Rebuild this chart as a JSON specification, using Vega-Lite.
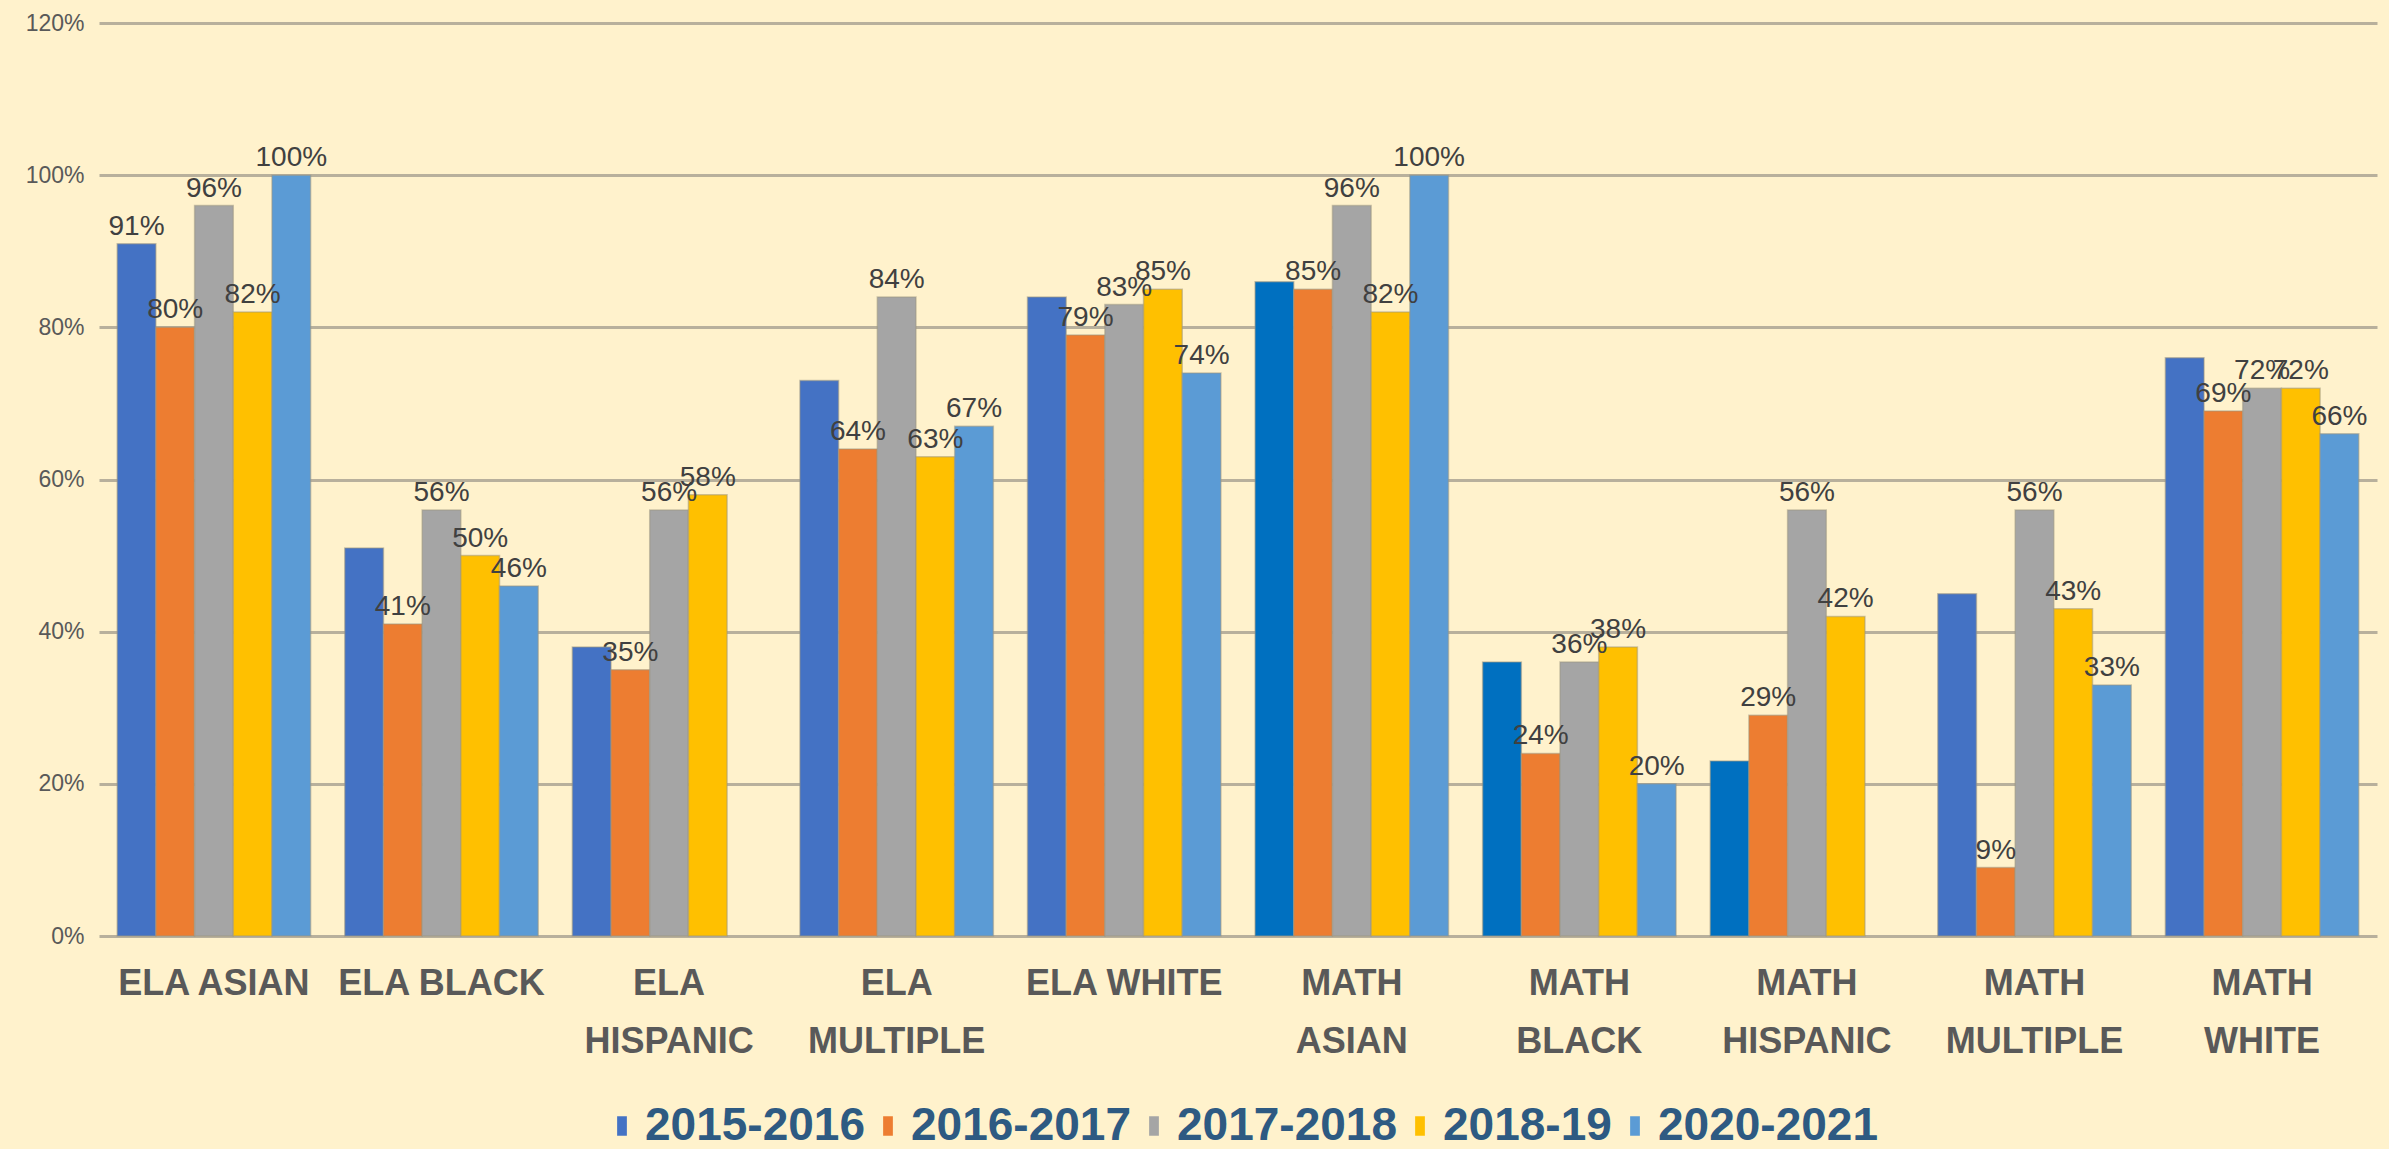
{
  "$schema": "https://vega.github.io/schema/vega-lite/v6.json",
  "width": 2389,
  "height": 1149,
  "autosize": {"type": "fit", "contains": "padding"},
  "padding": {"left": 25, "right": 12, "top": 12, "bottom": 0},
  "background": "#FFF2CC",
  "config": {
    "view": {"stroke": null},
    "font": "Liberation Sans",
    "legend": {"layout": {"bottom": {"anchor": "middle"}}}
  },
  "data": {
    "values": [
      {"cat": "ELA ASIAN", "year": "2015-2016", "pct": 0.91},
      {"cat": "ELA ASIAN", "year": "2016-2017", "pct": 0.80},
      {"cat": "ELA ASIAN", "year": "2017-2018", "pct": 0.96},
      {"cat": "ELA ASIAN", "year": "2018-19", "pct": 0.82},
      {"cat": "ELA ASIAN", "year": "2020-2021", "pct": 1.00},
      {"cat": "ELA BLACK", "year": "2015-2016", "pct": 0.51},
      {"cat": "ELA BLACK", "year": "2016-2017", "pct": 0.41},
      {"cat": "ELA BLACK", "year": "2017-2018", "pct": 0.56},
      {"cat": "ELA BLACK", "year": "2018-19", "pct": 0.50},
      {"cat": "ELA BLACK", "year": "2020-2021", "pct": 0.46},
      {"cat": "ELA HISPANIC", "year": "2015-2016", "pct": 0.38},
      {"cat": "ELA HISPANIC", "year": "2016-2017", "pct": 0.35},
      {"cat": "ELA HISPANIC", "year": "2017-2018", "pct": 0.56},
      {"cat": "ELA HISPANIC", "year": "2018-19", "pct": 0.58},
      {"cat": "ELA MULTIPLE", "year": "2015-2016", "pct": 0.73},
      {"cat": "ELA MULTIPLE", "year": "2016-2017", "pct": 0.64},
      {"cat": "ELA MULTIPLE", "year": "2017-2018", "pct": 0.84},
      {"cat": "ELA MULTIPLE", "year": "2018-19", "pct": 0.63},
      {"cat": "ELA MULTIPLE", "year": "2020-2021", "pct": 0.67},
      {"cat": "ELA WHITE", "year": "2015-2016", "pct": 0.84},
      {"cat": "ELA WHITE", "year": "2016-2017", "pct": 0.79},
      {"cat": "ELA WHITE", "year": "2017-2018", "pct": 0.83},
      {"cat": "ELA WHITE", "year": "2018-19", "pct": 0.85},
      {"cat": "ELA WHITE", "year": "2020-2021", "pct": 0.74},
      {"cat": "MATH ASIAN", "year": "2015-2016", "pct": 0.86},
      {"cat": "MATH ASIAN", "year": "2016-2017", "pct": 0.85},
      {"cat": "MATH ASIAN", "year": "2017-2018", "pct": 0.96},
      {"cat": "MATH ASIAN", "year": "2018-19", "pct": 0.82},
      {"cat": "MATH ASIAN", "year": "2020-2021", "pct": 1.00},
      {"cat": "MATH BLACK", "year": "2015-2016", "pct": 0.36},
      {"cat": "MATH BLACK", "year": "2016-2017", "pct": 0.24},
      {"cat": "MATH BLACK", "year": "2017-2018", "pct": 0.36},
      {"cat": "MATH BLACK", "year": "2018-19", "pct": 0.38},
      {"cat": "MATH BLACK", "year": "2020-2021", "pct": 0.20},
      {"cat": "MATH HISPANIC", "year": "2015-2016", "pct": 0.23},
      {"cat": "MATH HISPANIC", "year": "2016-2017", "pct": 0.29},
      {"cat": "MATH HISPANIC", "year": "2017-2018", "pct": 0.56},
      {"cat": "MATH HISPANIC", "year": "2018-19", "pct": 0.42},
      {"cat": "MATH MULTIPLE", "year": "2015-2016", "pct": 0.45},
      {"cat": "MATH MULTIPLE", "year": "2016-2017", "pct": 0.09},
      {"cat": "MATH MULTIPLE", "year": "2017-2018", "pct": 0.56},
      {"cat": "MATH MULTIPLE", "year": "2018-19", "pct": 0.43},
      {"cat": "MATH MULTIPLE", "year": "2020-2021", "pct": 0.33},
      {"cat": "MATH WHITE", "year": "2015-2016", "pct": 0.76},
      {"cat": "MATH WHITE", "year": "2016-2017", "pct": 0.69},
      {"cat": "MATH WHITE", "year": "2017-2018", "pct": 0.72},
      {"cat": "MATH WHITE", "year": "2018-19", "pct": 0.72},
      {"cat": "MATH WHITE", "year": "2020-2021", "pct": 0.66}
    ]
  },
  "encoding": {
    "x": {
      "field": "cat",
      "type": "nominal",
      "sort": null,
      "scale": {"paddingInner": 0.15, "paddingOuter": 0.08},
      "axis": {
        "title": null,
        "labelAngle": 0,
        "domain": false,
        "ticks": false,
        "labelFont": "Liberation Sans",
        "labelFontSize": 36,
        "labelFontWeight": "bold",
        "labelColor": "#595959",
        "labelLineHeight": 58,
        "labelPadding": 30,
        "labelLimit": 400,
        "labelExpr": "(datum.label === 'ELA ASIAN' || datum.label === 'ELA BLACK' || datum.label === 'ELA WHITE') ? datum.label : split(datum.label, ' ')"
      }
    },
    "xOffset": {
      "field": "year",
      "type": "nominal",
      "scale": {"domain": ["2015-2016", "2016-2017", "2017-2018", "2018-19", "2020-2021"]}
    },
    "y": {
      "field": "pct",
      "type": "quantitative",
      "scale": {"domain": [0, 1.2]},
      "axis": {
        "title": null,
        "values": [0, 0.2, 0.4, 0.6, 0.8, 1.0, 1.2],
        "format": ".0%",
        "domain": false,
        "ticks": false,
        "grid": true,
        "gridColor": "#B8B09C",
        "gridWidth": 3,
        "labelFont": "Liberation Sans",
        "labelFontSize": 23,
        "labelColor": "#595959",
        "labelPadding": 15
      }
    }
  },
  "layer": [
    {
      "mark": {"type": "bar", "stroke": "#9C9580", "strokeWidth": 1.5, "strokeOpacity": 0.5},
      "encoding": {
        "color": {
          "condition": {
            "test": "datum.year === '2015-2016' && (datum.cat === 'MATH ASIAN' || datum.cat === 'MATH BLACK' || datum.cat === 'MATH HISPANIC')",
            "value": "#0070C0"
          },
          "field": "year",
          "type": "nominal",
          "scale": {
            "domain": ["2015-2016", "2016-2017", "2017-2018", "2018-19", "2020-2021"],
            "range": ["#4472C4", "#ED7D31", "#A5A5A5", "#FFC000", "#5B9BD5"]
          },
          "legend": {
            "title": null,
            "orient": "bottom",
            "direction": "horizontal",
            "labelFont": "Liberation Sans",
            "labelFontSize": 46,
            "labelFontWeight": "bold",
            "labelColor": "#2E5A82",
            "labelLimit": 400,
            "symbolType": "M -0.5 -1 L 0.5 -1 L 0.5 1 L -0.5 1 Z",
            "symbolSize": 380,
            "symbolStrokeWidth": 0,
            "labelOffset": 0,
            "columnPadding": 0,
            "offset": 44
          }
        }
      }
    },
    {
      "transform": [{"filter": "datum.year !== '2015-2016' || datum.cat === 'ELA ASIAN'"}],
      "mark": {
        "type": "text",
        "baseline": "bottom",
        "dy": -3,
        "font": "Liberation Sans",
        "fontSize": 28,
        "color": "#404040"
      },
      "encoding": {
        "text": {"field": "pct", "type": "quantitative", "format": ".0%"}
      }
    }
  ]
}
